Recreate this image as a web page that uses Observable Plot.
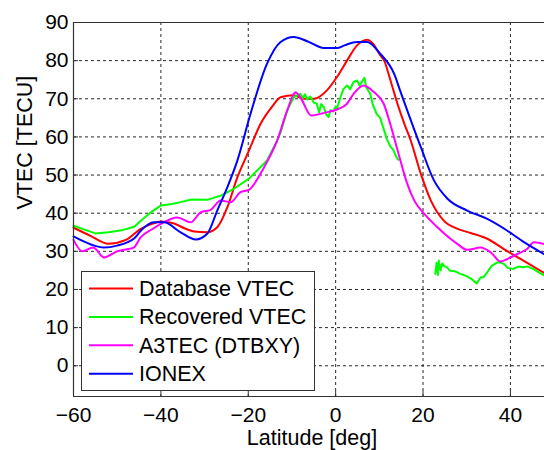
<!DOCTYPE html>
<html>
<head>
<meta charset="utf-8">
<script src="https://cdn.jsdelivr.net/npm/d3@7"></script>
<script src="https://cdn.jsdelivr.net/npm/@observablehq/plot@0.6"></script>
<style>
  html, body { margin: 0; padding: 0; background: white; }
  #wrap { position: relative; width: 544px; height: 450px; font-family: "Liberation Sans", Arial, sans-serif; }
  #legend { position: absolute; left: 81px; top: 271px; width: 234px; height: 120px; background: white; border: 1px solid #333; box-sizing: border-box; }
</style>
</head>
<body>
<div id="wrap"></div>
<script>
// ---- Data: [latitude (deg), VTEC (TECU)] ----
const seriesNames = ["Database VTEC", "Recovered VTEC", "A3TEC (DTBXY)", "IONEX"];
const seriesColors = ["#ff0000", "#00ff00", "#ff00ff", "#0000ff"];

const databaseVTEC = [
  [-60,36.2],[-56,34],[-52,32],[-48,33],[-44.6,35.9],[-42,37.2],[-40,37.8],[-37,37.3],[-34.5,36],
  [-32.4,35.2],[-29.4,35],[-27.1,36.3],[-24.8,41.5],[-22.5,49.4],[-20,56],[-17.2,63.4],
  [-14.5,68],[-12.6,70.4],[-9.6,70.9],[-7.3,70],[-5,70],[-2,72.2],[0.3,75.7],[2.6,80],
  [4.9,84],[7.2,85.5],[8.5,84.5],[10.2,81.4],[11.1,80],[12.5,75],[14.2,68.5],[15.7,63.5],
  [17.2,59],[19.5,50.3],[21.8,43.3],[24.8,38],[27.9,35.9],[30.9,34.8],[34.7,33.3],
  [38.5,30.6],[42.3,28],[47.8,24.3]
];

const recoveredVTEC = [
  [-60,36.7],[-57,35.5],[-55,34.7],[-52,35],[-49,35.5],[-46,36.5],[-44.6,38],[-42,40.5],
  [-40,42],[-37.5,42.4],[-35.5,42.9],[-33,43.6],[-29.4,43.5],[-26.3,44.6],[-23.3,46.4],
  [-19.9,49],[-15.7,53.8],[-13.4,59],[-12.6,61.2],[-11.1,66.9],[-9.6,70.4],[-8.1,71.3],
  [-7.5,70.2],[-7,71.2],[-6.5,69.8],[-5.8,70.6],[-5,69],[-4.3,68.7],[-3.8,66.5],[-3.3,68.6],
  [-2.7,67.8],[-2.2,66],[-1.6,65.2],[-1.2,67],[-0.5,66.7],[0,68],[0.3,67.4],[1.1,70.4],
  [1.8,72.6],[2.6,73.5],[3.3,72.5],[4.1,74.4],[4.9,74.8],[5.5,73.5],[6,74.5],[6.6,75.5],
  [7,73],[7.9,71.3],[8.5,68.5],[9.4,66],[10.2,65],[11.1,61.7],[11.7,59.5],[12.5,57.5],
  [13.2,56.6],[13.8,55],[14.3,54],
  [18,null],
  [22.8,24.1],[23.1,27],[23.4,23.8],[23.6,27.6],[24,25],[24.4,26.8],[24.8,26.2],[25.5,25.8],
  [26.2,24.9],[27.3,24.8],[28.5,24.1],[30,23.5],[31,22.8],[32.3,21.6],[33.2,23.2],
  [33.8,23.2],[34.7,24.5],[35.7,26.2],[37,27.1],[37.6,27.1],[38.5,26.7],[39.5,25.6],
  [40.6,25.4],[41.8,26],[42.9,25.8],[44,26],[45.2,25.4],[46.5,24.5],[47.8,23.6]
];

const a3tec = [
  [-60,33],[-58,30],[-55.5,31],[-53,28.4],[-50,30],[-48,30.5],[-46.2,31],[-44.6,33.7],
  [-42,35.8],[-40,37.2],[-36.2,38.9],[-33.2,37.6],[-30.9,40.2],[-28.6,40.9],[-26.3,43.3],
  [-24,42.9],[-21.8,45.5],[-19.9,46.1],[-16.4,52],[-13.4,59],[-11.1,66.9],[-9.2,71.7],
  [-8.1,70.4],[-5.6,65.6],[-2.7,66.3],[0.3,67.2],[2.6,68.7],[4.1,71.3],[6.4,73.5],
  [8.8,71.7],[11,68.7],[12.5,63.4],[14.2,56.4],[16.4,47.7],[18,43.3],[20.3,39.8],
  [23.3,36.3],[25.5,34],[27.9,31.9],[30.1,30.4],[33.2,31],[35.5,29.7],[37.8,27.3],
  [39.3,28],[41.6,29.3],[43.8,30.6],[45.4,32.4],[47.8,31.9]
];

const ionex = [
  [-60,33.9],[-56,31.8],[-53,31],[-50,31.5],[-46,33.5],[-44.6,35.4],[-41.6,37.6],
  [-39.3,37.6],[-35.5,35],[-32,33.1],[-29.4,34.6],[-27.1,40.7],[-24.8,46.8],[-22.5,53.8],
  [-19.5,66],[-15.7,79.2],[-12.6,84.9],[-9.6,86.2],[-6.5,85.1],[-2.7,83.3],[0.3,83.3],
  [2,84],[4.9,84.9],[7.2,84.9],[10.2,81.8],[13.4,76.5],[14.8,72],[16.4,66.9],[19.5,57.3],
  [22.5,48.6],[25.6,43.8],[30.1,40.7],[34.7,38.5],[39.3,35.4],[43.1,32.4],[47.8,29.2]
];

const xTicks = [-60, -40, -20, 0, 20, 40];
const yTicks = [0, 10, 20, 30, 40, 50, 60, 70, 80, 90];
const xDomain = [-60, 47.8];
const yDomain = [-8.06, 90];

const seriesData = [databaseVTEC, recoveredVTEC, a3tec, ionex];

const font = "'Liberation Sans', Arial, sans-serif";
const lineMarks = seriesData.map((s, i) =>
  Plot.line(s, {x: d => d[0], y: d => d[1], stroke: seriesColors[i], strokeWidth: 2,
    curve: i === 1 ? "linear" : "monotone-x"})
);

const chart = Plot.plot({
  width: 544,
  height: 450,
  marginLeft: 73,
  marginRight: 0,
  marginTop: 22,
  marginBottom: 54,
  style: {fontFamily: font, fontSize: "21px", color: "black", background: "white"},
  x: {domain: xDomain},
  y: {domain: yDomain},
  marks: [
    Plot.gridX(xTicks.slice(1), {stroke: "#000", strokeOpacity: 0.85, strokeDasharray: "3,3", strokeWidth: 1}),
    Plot.gridY(yTicks.slice(0, -1), {stroke: "#000", strokeOpacity: 0.85, strokeDasharray: "3,3", strokeWidth: 1}),
    ...lineMarks,
    Plot.ruleX([xDomain[0]], {stroke: "#333", strokeWidth: 1.2}),
    Plot.ruleY([yDomain[0], yDomain[1]], {stroke: "#333", strokeWidth: 1.2}),
    Plot.axisX(xTicks, {anchor: "bottom", tickSize: -5, tickPadding: 16, label: null, stroke: "#333", fontSize: 21}),
    Plot.axisY(yTicks, {anchor: "left", tickSize: -5, tickPadding: 10, label: null, stroke: "#333", fontSize: 21}),
    Plot.text(["VTEC [TECU]"], {text: d => d, frameAnchor: "left", rotate: -90, dx: -48, fontSize: 21.5, lineAnchor: "middle"}),
    Plot.text(["Latitude [deg]"], {text: d => d, frameAnchor: "bottom", dx: 3, dy: 42, fontSize: 21.5, lineAnchor: "middle"})
  ]
});

const wrap = document.getElementById("wrap");
wrap.appendChild(chart);

// Legend overlay
const legend = d3.select(wrap).append("div").attr("id", "legend");
const lsvg = legend.append("svg").attr("width", 232).attr("height", 118);
seriesNames.forEach((name, i) => {
  const y = 16.5 + i * 28.4;
  lsvg.append("line").attr("x1", 7).attr("x2", 51).attr("y1", y).attr("y2", y)
    .attr("stroke", seriesColors[i]).attr("stroke-width", 2);
  lsvg.append("text").attr("x", 57).attr("y", y).attr("dy", "0.35em")
    .attr("font-family", font).attr("font-size", 21.5).attr("fill", "black").text(name);
});
</script>
</body>
</html>
